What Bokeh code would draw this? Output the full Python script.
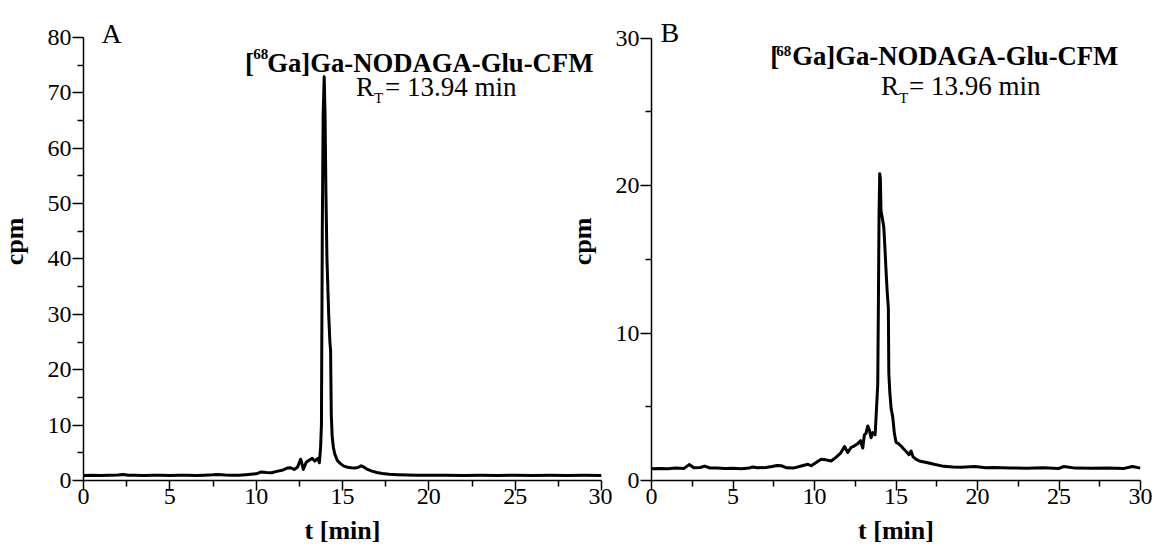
import math
from bokeh.plotting import figure
from bokeh.models import Range1d, FixedTicker, Label
from bokeh.layouts import row
from bokeh.embed import file_html
from bokeh.resources import INLINE

# ---------------- data ----------------
t_a = [0.0, 0.5, 1.0, 1.5, 2.0, 2.3, 2.6, 3.0, 3.5, 4.0, 4.5, 5.0, 5.5, 6.0, 6.5,
       7.0, 7.5, 7.8, 8.2, 8.6, 9.0, 9.4, 9.7, 10.0, 10.3, 10.6, 10.9, 11.2, 11.5,
       11.8, 12.0, 12.2, 12.4, 12.58, 12.73, 12.9, 13.06, 13.25, 13.39, 13.58, 13.66,
       13.73, 13.78, 13.83, 13.88, 13.94, 13.99, 14.04, 14.1, 14.2, 14.27, 14.31,
       14.35, 14.4, 14.47, 14.55, 14.7, 14.9, 15.08, 15.3, 15.5, 15.7, 15.9, 16.08,
       16.25, 16.45, 16.7, 17.0, 17.3, 17.7, 18.2, 18.75, 19.3, 20.0, 21, 22, 23,
       24, 25, 26, 27, 28, 29, 30]
cpm_a = [0.92, 0.95, 0.90, 0.96, 0.98, 1.10, 0.96, 0.94, 0.92, 0.95, 0.93, 0.92,
         0.96, 0.94, 0.92, 0.97, 1.02, 1.08, 0.98, 0.94, 0.97, 1.05, 1.12, 1.20,
         1.55, 1.45, 1.40, 1.65, 1.85, 2.25, 2.30, 2.00, 2.45, 3.85, 2.00, 3.30,
         3.65, 4.00, 3.50, 4.00, 3.20, 5.90, 10.0, 45.0, 66.0, 72.9, 66.0, 52.0,
         40.0, 30.0, 25.0, 23.5, 12.0, 8.0, 6.0, 4.8, 3.6, 3.0, 2.6, 2.4, 2.3, 2.25,
         2.35, 2.65, 2.4, 2.0, 1.7, 1.45, 1.25, 1.12, 1.05, 1.0, 0.97, 0.96, 0.94,
         0.92, 0.95, 0.92, 0.94, 0.91, 0.94, 0.92, 0.93, 0.92]

t_b = [0.0, 0.5, 1.0, 1.5, 2.0, 2.31, 2.6, 3.0, 3.25, 3.6, 4.0, 4.5, 5.0, 5.5, 6.0,
       6.2, 6.5, 7.0, 7.4, 7.7, 7.96, 8.3, 8.7, 9.19, 9.6, 9.8, 10.1, 10.41, 10.7,
       11.02, 11.3, 11.6, 11.84, 12.04, 12.25, 12.45, 12.65, 12.82, 12.96, 13.06,
       13.16, 13.27, 13.37, 13.47, 13.57, 13.72, 13.8, 13.88, 13.92, 13.96, 14.0,
       14.04, 14.08, 14.16, 14.25, 14.32, 14.39, 14.46, 14.53, 14.56, 14.62, 14.7,
       14.8, 14.9, 15.0, 15.15, 15.31, 15.5, 15.68, 15.8, 15.92, 16.05, 16.23, 16.5,
       16.94, 17.4, 17.94, 18.5, 19.0, 19.84, 20.5, 21, 22, 23, 24, 25, 25.3, 26,
       27, 28, 29, 29.5, 30]
cpm_b = [0.80, 0.82, 0.80, 0.84, 0.82, 1.08, 0.86, 0.88, 0.98, 0.85, 0.84, 0.82,
         0.83, 0.80, 0.84, 0.92, 0.86, 0.88, 0.95, 1.02, 1.00, 0.86, 0.84, 0.98,
         1.10, 1.00, 1.22, 1.44, 1.40, 1.32, 1.55, 1.85, 2.30, 1.90, 2.25, 2.35,
         2.50, 2.70, 2.20, 3.10, 3.20, 3.70, 3.40, 2.90, 3.25, 3.10, 4.8, 6.5, 12.0,
         18.0, 20.8, 20.5, 18.3, 17.8, 17.2, 15.8, 14.2, 12.8, 11.7, 7.3, 6.0, 4.9,
         4.3, 3.2, 2.6, 2.5, 2.34, 2.1, 1.9, 1.75, 2.0, 1.6, 1.44, 1.3, 1.2, 1.08,
         0.96, 0.92, 0.90, 0.95, 0.86, 0.88, 0.85, 0.83, 0.86, 0.82, 0.95, 0.84,
         0.83, 0.85, 0.82, 0.95, 0.84]

x_ticks = [0, 5, 10, 15, 20, 25, 30]
x_minor = [2.5, 7.5, 12.5, 17.5, 22.5, 27.5]
y_ticks_a = [0, 10, 20, 30, 40, 50, 60, 70, 80]
y_minor_a = [5, 15, 25, 35, 45, 55, 65, 75]
y_ticks_b = [0, 10, 20, 30]
y_minor_b = [5, 15, 25]

compound = "Ga]Ga-NODAGA-Glu-CFM"
rt_a = "= 13.94 min"
rt_b = "= 13.96 min"
y_title = "cpm"
x_title = "t [min]"

FONT = "Liberation Serif"
H = 547
TOP = 15
BOTTOM = 67


def make_fig(width, bl, br, y_max, y_view, yt, ym):
    p = figure(width=width, height=H, x_range=Range1d(0, 30), y_range=Range1d(0, y_view),
               output_backend="svg", toolbar_location=None,
               min_border_left=bl, min_border_right=br, min_border_top=TOP,
               min_border_bottom=BOTTOM)
    p.outline_line_color = None
    p.grid.visible = False
    p.background_fill_color = "white"
    p.border_fill_color = "white"
    p.xaxis.ticker = FixedTicker(ticks=x_ticks, minor_ticks=x_minor)
    p.yaxis.ticker = FixedTicker(ticks=yt, minor_ticks=ym)
    p.xaxis.bounds = (0, 30)
    p.yaxis.bounds = (0, y_max)
    for ax in (p.xaxis[0], p.yaxis[0]):
        ax.axis_line_color = "black"
        ax.axis_line_width = 1.5
        ax.major_tick_line_color = "black"
        ax.minor_tick_line_color = "black"
        ax.major_tick_line_width = 1.5
        ax.minor_tick_line_width = 1.5
        ax.major_tick_in = 0
        ax.minor_tick_in = 0
        ax.major_label_text_font = FONT
        ax.major_label_text_font_size = "24px"
        ax.major_label_text_color = "black"
        ax.axis_label_text_font = FONT
        ax.axis_label_text_font_size = "26px"
        ax.axis_label_text_font_style = "bold"
        ax.axis_label_text_color = "black"
    p.xaxis.major_tick_out = 10
    p.xaxis.minor_tick_out = 6
    p.yaxis.major_tick_out = 11
    p.yaxis.minor_tick_out = 6
    p.xaxis.major_label_standoff = -2
    p.yaxis.major_label_standoff = 1
    p.xaxis.axis_label = x_title
    p.xaxis.axis_label_standoff = 9
    return p


def lab(p, x, y, text, size, bold=False, angle=0.0, align="left"):
    p.add_layout(Label(x=x, y=y, text=text, text_font=FONT, text_font_size=size,
                       text_font_style="bold" if bold else "normal", text_color="black",
                       text_align=align, text_baseline="middle", angle=angle))


# ---------------- y title of panel A (narrow strip left of the panel) ----------------
ps = figure(width=44, height=H, x_range=Range1d(0, 44), y_range=Range1d(0, 83.97),
            x_axis_type=None, y_axis_type=None, output_backend="svg",
            toolbar_location=None, min_border_left=0, min_border_right=0,
            min_border_top=TOP, min_border_bottom=BOTTOM)
ps.outline_line_color = None
ps.grid.visible = False
lab(ps, 13.6, 43.16, y_title, "26px", bold=True, angle=math.pi / 2, align="center")

# ---------------- panel A ----------------
pa = make_fig(568, 38, 11, 80, 83.97, y_ticks_a, y_minor_a)
pa.line(t_a, cpm_a, line_color="black", line_width=3, line_join="round")
lab(pa, 1.04, 80.72, "A", "28px")
lab(pa, 9.36, 75.41, "[", "26.7px", bold=True)
lab(pa, 9.83, 76.95, "68", "15px", bold=True)
lab(pa, 10.64, 75.41, compound, "26.7px", bold=True)
lab(pa, 15.78, 71.02, "R", "27px")
lab(pa, 16.82, 69.0, "T", "15px")
lab(pa, 17.46, 71.02, rt_a, "27px")
# y-axis title of panel B sits in the gap between the panels
lab(pa, 28.91, 43.16, y_title, "26px", bold=True, angle=math.pi / 2, align="center")

# ---------------- panel B ----------------
pb = make_fig(541, 38, 13, 30, 31.54, y_ticks_b, y_minor_b)
pb.line(t_b, cpm_b, line_color="black", line_width=3, line_join="round")
lab(pb, 0.55, 30.42, "B", "28px")
lab(pb, 7.29, 28.80, "[", "26.7px", bold=True)
lab(pb, 7.65, 29.12, "68", "15px", bold=True)
lab(pb, 8.63, 28.80, compound, "26.7px", bold=True)
lab(pb, 14.08, 26.74, "R", "27px")
lab(pb, 15.19, 25.92, "T", "15px")
lab(pb, 15.80, 26.74, rt_b, "27px")

layout = row(ps, pa, pb)
open("out.html", "w").write(file_html(layout, INLINE))
